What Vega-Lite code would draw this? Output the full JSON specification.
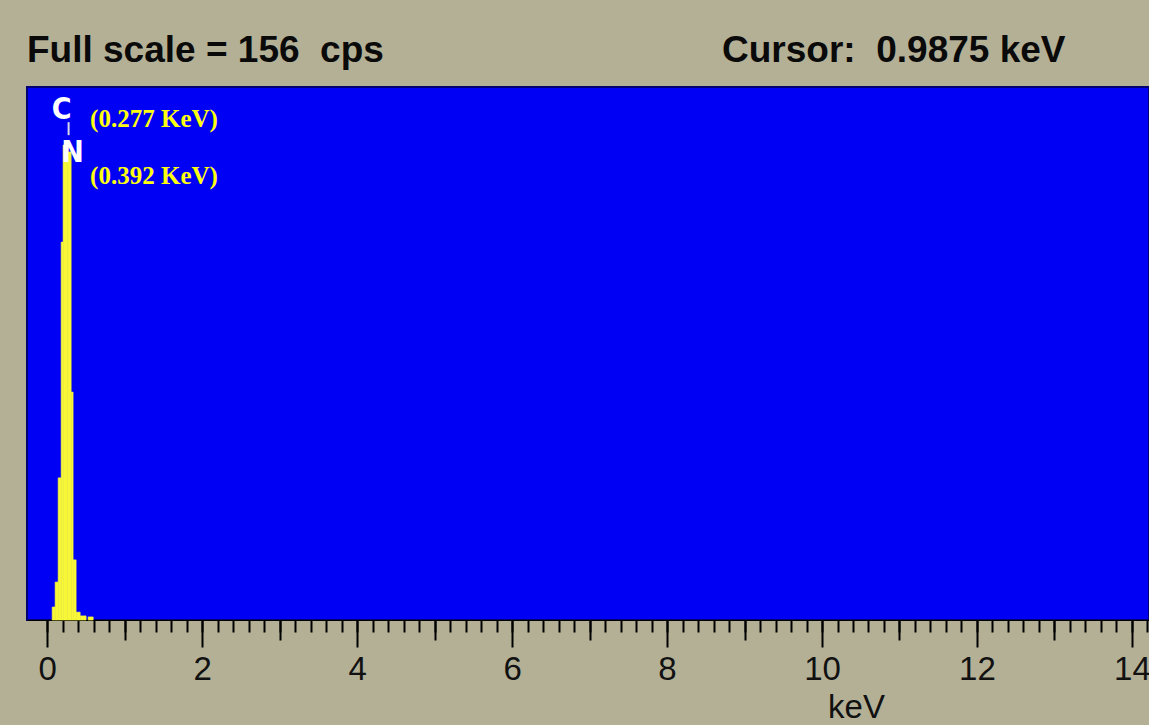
{
  "$schema": "https://vega.github.io/schema/vega-lite/v6.json",
  "autosize": {"type": "none"},
  "width": 1122,
  "height": 533,
  "padding": {"left": 27, "top": 87, "right": 0, "bottom": 105},
  "background": "#b3b096",
  "config": {
    "view": {"fill": "#0000f5", "stroke": "#000070", "strokeWidth": 2}
  },
  "resolve": {"scale": {"x": "shared", "y": "shared"}, "axis": {"x": "independent"}},
  "datasets": {
    "spectrum": [
      {"lo": 0.065, "hi": 0.103, "cps": 3.8},
      {"lo": 0.103, "hi": 0.142, "cps": 11.1},
      {"lo": 0.142, "hi": 0.181, "cps": 41.6},
      {"lo": 0.181, "hi": 0.206, "cps": 110.6},
      {"lo": 0.206, "hi": 0.258, "cps": 139},
      {"lo": 0.258, "hi": 0.310, "cps": 137},
      {"lo": 0.310, "hi": 0.335, "cps": 66.7},
      {"lo": 0.335, "hi": 0.374, "cps": 17.6},
      {"lo": 0.374, "hi": 0.426, "cps": 2.3},
      {"lo": 0.426, "hi": 0.503, "cps": 1.2},
      {"lo": 0.529, "hi": 0.594, "cps": 0.9}
    ],
    "markers": [
      {"element": "C", "energy": 0.277, "label": "(0.277 KeV)"},
      {"element": "N", "energy": 0.392, "label": "(0.392 KeV)"}
    ],
    "header": [
      {"item": "scale", "energy": -0.26, "text": "Full scale = 156\u00a0 cps"},
      {"item": "cursor", "energy": 8.71, "text": "Cursor:\u00a0 0.9875 keV"}
    ]
  },
  "layer": [
    {
      "data": {"name": "spectrum"},
      "mark": {"type": "rect", "color": "#f8f838", "stroke": "#f8f838", "strokeWidth": 0.6},
      "encoding": {
        "x": {
          "field": "lo", "type": "quantitative",
          "scale": {"domain": [-0.26, 14.22], "nice": false, "zero": false},
          "axis": {
            "orient": "bottom",
            "title": "keV",
            "values": [0, 2, 4, 6, 8, 10, 12, 14],
            "format": "d",
            "tickCount": 100,
            "grid": false,
            "domain": true,
            "domainColor": "#000000",
            "domainWidth": 1,
            "tickColor": "#000000",
            "tickWidth": 2,
            "tickSize": 27,
            "labelOverlap": false,
            "labelFont": "Liberation Sans",
            "labelFontSize": 33,
            "labelColor": "#111111",
            "labelPadding": 6,
            "labelFlush": false,
            "titleFont": "Liberation Sans",
            "titleFontSize": 33,
            "titleFontWeight": "normal",
            "titleColor": "#111111",
            "titleX": 829,
            "titleY": 71,
            "titleAlign": "center",
            "titleBaseline": "top"
          }
        },
        "x2": {"field": "hi"},
        "y": {"field": "cps", "type": "quantitative", "scale": {"domain": [0, 156], "nice": false}, "axis": null},
        "y2": {"datum": 0}
      }
    },
    {
      "data": {"name": "markers"},
      "transform": [{"filter": "datum.element === 'C'"}],
      "mark": {"type": "rule", "color": "#d8d8e8", "strokeWidth": 2},
      "encoding": {
        "x": {
          "field": "energy", "type": "quantitative",
          "axis": {
            "orient": "bottom",
            "title": null,
            "values": [1, 3, 5, 7, 9, 11, 13],
            "tickCount": 100,
            "grid": false,
            "domain": false,
            "labels": false,
            "tickColor": "#000000",
            "tickWidth": 2,
            "tickSize": 20
          }
        },
        "y": {"datum": 141.9},
        "y2": {"datum": 145.7}
      }
    },
    {
      "data": {"name": "markers"},
      "transform": [{"filter": "datum.element === 'C'"}],
      "mark": {"type": "text", "color": "#ffffff", "font": "DejaVu Sans Condensed", "fontWeight": "bold", "fontSize": 30, "align": "center", "baseline": "middle", "dx": -7},
      "encoding": {
        "x": {
          "field": "energy", "type": "quantitative",
          "axis": {
            "orient": "bottom",
            "title": null,
            "values": [0,0.2,0.4,0.6,0.8,1,1.2,1.4,1.6,1.8,2,2.2,2.4,2.6,2.8,3,3.2,3.4,3.6,3.8,4,4.2,4.4,4.6,4.8,5,5.2,5.4,5.6,5.8,6,6.2,6.4,6.6,6.8,7,7.2,7.4,7.6,7.8,8,8.2,8.4,8.6,8.8,9,9.2,9.4,9.6,9.8,10,10.2,10.4,10.6,10.8,11,11.2,11.4,11.6,11.8,12,12.2,12.4,12.6,12.8,13,13.2,13.4,13.6,13.8,14,14.2],
            "tickCount": 200,
            "grid": false,
            "domain": false,
            "labels": false,
            "tickColor": "#000000",
            "tickWidth": 2,
            "tickSize": 12
          }
        },
        "y": {"datum": 149.2},
        "text": {"field": "element"}
      }
    },
    {
      "data": {"name": "markers"},
      "transform": [{"filter": "datum.element === 'N'"}],
      "mark": {"type": "text", "color": "#ffffff", "font": "DejaVu Sans Condensed", "fontWeight": "bold", "fontSize": 30, "align": "center", "baseline": "middle", "dx": -5},
      "encoding": {
        "x": {"field": "energy", "type": "quantitative", "axis": null},
        "y": {"datum": 136.8},
        "text": {"field": "element"}
      }
    },
    {
      "data": {"name": "markers"},
      "transform": [{"filter": "datum.element === 'C'"}],
      "mark": {"type": "text", "color": "#ffff10", "font": "Liberation Serif", "fontWeight": "bold", "fontSize": 25, "align": "left", "baseline": "middle", "dx": 21.5},
      "encoding": {
        "x": {"field": "energy", "type": "quantitative", "axis": null},
        "y": {"datum": 146.6},
        "text": {"field": "label"}
      }
    },
    {
      "data": {"name": "markers"},
      "transform": [{"filter": "datum.element === 'N'"}],
      "mark": {"type": "text", "color": "#ffff10", "font": "Liberation Serif", "fontWeight": "bold", "fontSize": 25, "align": "left", "baseline": "middle", "dx": 12.6},
      "encoding": {
        "x": {"field": "energy", "type": "quantitative", "axis": null},
        "y": {"datum": 129.9},
        "text": {"field": "label"}
      }
    },
    {
      "data": {"name": "header"},
      "mark": {"type": "text", "color": "#0a0a0a", "font": "Liberation Sans", "fontWeight": "bold", "fontSize": 37, "align": "left", "baseline": "alphabetic"},
      "encoding": {
        "x": {"field": "energy", "type": "quantitative", "axis": null},
        "y": {"datum": 163.3},
        "text": {"field": "text"}
      }
    }
  ]
}
